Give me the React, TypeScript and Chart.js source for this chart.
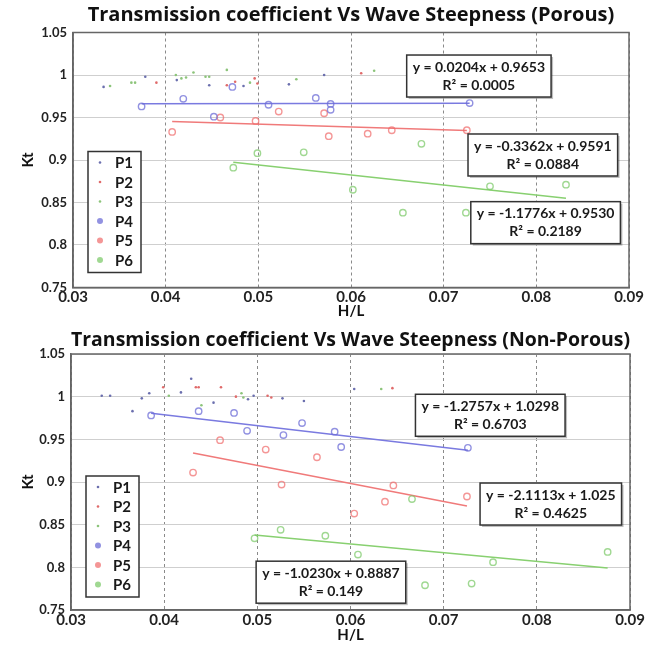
import React, { useEffect, useRef } from "react";
import { Chart, registerables } from "chart.js";

Chart.register(...registerables);

type Pt = [number, number];

// ---------- data ----------
const seriesLabels = ["P1", "P2", "P3", "P4", "P5", "P6"];

const porousTitle = "Transmission coefficient Vs Wave Steepness (Porous)";
const nonPorousTitle = "Transmission coefficient Vs Wave Steepness (Non-Porous)";
const xAxisLabel = "H/L";
const yAxisLabel = "Kt";

const porousP1: Pt[] = [[0.0333, 0.986], [0.0378, 0.998], [0.0412, 0.994], [0.0447, 0.988], [0.0484, 0.987], [0.0533, 0.989], [0.0571, 1.0]];
const porousP2: Pt[] = [[0.039, 0.991], [0.0466, 0.988], [0.0475, 0.992], [0.0496, 0.996], [0.0499, 0.99], [0.0611, 1.002]];
const porousP3: Pt[] = [[0.034, 0.987], [0.0363, 0.991], [0.0367, 0.991], [0.0411, 1.0], [0.0417, 0.996], [0.0422, 0.997], [0.043, 1.003], [0.0443, 0.998], [0.0447, 0.998], [0.0466, 1.006], [0.0491, 0.991], [0.0541, 0.995], [0.0625, 1.005]];
const porousP4: Pt[] = [[0.0374, 0.963], [0.0419, 0.972], [0.0452, 0.951], [0.0472, 0.986], [0.0511, 0.965], [0.0562, 0.973], [0.0578, 0.966], [0.0578, 0.959], [0.0728, 0.967]];
const porousP5: Pt[] = [[0.0407, 0.933], [0.0459, 0.95], [0.0497, 0.946], [0.0522, 0.957], [0.0571, 0.955], [0.0576, 0.928], [0.0618, 0.931], [0.0644, 0.935], [0.0725, 0.935]];
const porousP6: Pt[] = [[0.0473, 0.891], [0.0499, 0.908], [0.0549, 0.909], [0.0602, 0.865], [0.0656, 0.838], [0.0676, 0.919], [0.0724, 0.838], [0.075, 0.869], [0.0832, 0.871]];

const porousSlopes = [0.0204, -0.3362, -1.1776];
const porousIntercepts = [0.9653, 0.9591, 0.953];
const porousEquations = ["y = 0.0204x + 0.9653", "y = -0.3362x + 0.9591", "y = -1.1776x + 0.9530"];
const porousR2 = ["R² = 0.0005", "R² = 0.0884", "R² = 0.2189"];

const nonPorousP1: Pt[] = [[0.0333, 1.001], [0.0342, 1.001], [0.0366, 0.983], [0.0376, 0.998], [0.0384, 1.004], [0.0418, 1.005], [0.0429, 1.021], [0.0453, 0.993], [0.049, 0.997], [0.0496, 1.001], [0.0527, 0.998], [0.055, 0.995], [0.0604, 1.009]];
const nonPorousP2: Pt[] = [[0.0399, 1.011], [0.0434, 1.011], [0.0437, 1.011], [0.0461, 1.011], [0.0477, 1.0], [0.0511, 1.001], [0.0515, 0.999], [0.0645, 1.01]];
const nonPorousP3: Pt[] = [[0.0405, 1.001], [0.044, 0.99], [0.0483, 1.004], [0.0485, 0.999], [0.0633, 1.009]];
const nonPorousP4: Pt[] = [[0.0386, 0.978], [0.0437, 0.983], [0.0475, 0.981], [0.0489, 0.96], [0.0528, 0.955], [0.0548, 0.969], [0.0583, 0.959], [0.059, 0.941], [0.0726, 0.94]];
const nonPorousP5: Pt[] = [[0.0431, 0.911], [0.046, 0.949], [0.0509, 0.938], [0.0526, 0.897], [0.0564, 0.929], [0.0604, 0.863], [0.0637, 0.877], [0.0646, 0.896], [0.0725, 0.883]];
const nonPorousP6: Pt[] = [[0.0497, 0.834], [0.0525, 0.844], [0.0573, 0.837], [0.0608, 0.815], [0.0666, 0.88], [0.068, 0.779], [0.073, 0.781], [0.0753, 0.806], [0.0876, 0.818]];

const nonPorousSlopes = [-1.2757, -2.1113, -1.023];
const nonPorousIntercepts = [1.0298, 1.025, 0.8887];
const nonPorousEquations = ["y = -1.2757x + 1.0298", "y = -2.1113x + 1.025", "y = -1.0230x + 0.8887"];
const nonPorousR2 = ["R² = 0.6703", "R² = 0.4625", "R² = 0.149"];

// ---------- styles ----------
const FONT = "Lato, 'Open Sans', 'DejaVu Sans', sans-serif";
const TITLE_FONT = "'Open Sans', Lato, 'DejaVu Sans', sans-serif";
const dotColors = ["#6b6fae", "#e06a6a", "#8cc47a"];
const circleColors = ["rgba(110,110,215,0.75)", "rgba(240,105,105,0.7)", "rgba(120,200,100,0.7)"];
const trendColors = ["#7a7ae0", "#f07a7a", "#88d070"];

const eqBoxPlugin = {
  id: "eqBoxes",
  afterDatasetsDraw(chart: any, _args: any, opts: any) {
    const { ctx, scales } = chart;
    const xs = scales.x;
    const ys = scales.y;
    (opts.boxes || []).forEach((b: any) => {
      ctx.save();
      ctx.font = `bold 14px ${FONT}`;
      const w = Math.max(ctx.measureText(b.l1).width, ctx.measureText(b.l2).width) + 12;
      const h = 42;
      const cx = xs.getPixelForValue(b.x);
      const top = ys.getPixelForValue(b.y);
      const left = cx - w / 2;
      ctx.fillStyle = "rgba(0,0,0,0.25)";
      ctx.fillRect(left + 2, top + 2, w, h);
      ctx.fillStyle = "#fff";
      ctx.fillRect(left, top, w, h);
      ctx.strokeStyle = "#333";
      ctx.lineWidth = 1.5;
      ctx.strokeRect(left, top, w, h);
      ctx.fillStyle = "#1a1a1a";
      ctx.textAlign = "center";
      ctx.textBaseline = "middle";
      ctx.fillText(b.l1, cx, top + 12);
      ctx.fillText(b.l2, cx, top + 30);
      ctx.restore();
    });
  },
};

const boxLegendPlugin = {
  id: "boxLegend",
  afterDatasetsDraw(chart: any, _args: any, opts: any) {
    const { ctx, chartArea } = chart;
    const rowH = 19.5;
    const n = seriesLabels.length;
    const w = 53;
    const h = rowH * n + 4;
    const left = chartArea.left + opts.offsetX;
    const top = chartArea.bottom - opts.offsetY - h;
    ctx.save();
    ctx.fillStyle = "#fff";
    ctx.fillRect(left, top, w, h);
    ctx.strokeStyle = "#333";
    ctx.lineWidth = 1.5;
    ctx.strokeRect(left, top, w, h);
    ctx.font = `bold 15px ${FONT}`;
    ctx.textBaseline = "middle";
    ctx.textAlign = "left";
    seriesLabels.forEach((lab, i) => {
      const cy = top + 11 + i * rowH;
      const mx = left + 12;
      ctx.beginPath();
      if (i < 3) {
        ctx.fillStyle = dotColors[i];
        ctx.arc(mx, cy, 1.3, 0, Math.PI * 2);
      } else {
        ctx.fillStyle = circleColors[i - 3];
        ctx.arc(mx, cy, 3, 0, Math.PI * 2);
      }
      ctx.fill();
      ctx.fillStyle = "#1a1a1a";
      ctx.fillText(lab, left + 27, cy + 1);
    });
    ctx.restore();
  },
};

// solid frame around the plot area
const framePlugin = {
  id: "frame",
  beforeDatasetsDraw(chart: any) {
    const { ctx, chartArea } = chart;
    ctx.save();
    ctx.strokeStyle = "#666";
    ctx.lineWidth = 1.5;
    ctx.strokeRect(chartArea.left, chartArea.top, chartArea.right - chartArea.left, chartArea.bottom - chartArea.top);
    ctx.restore();
  },
};

function buildConfig(
  title: string,
  dots: Pt[][],
  circles: Pt[][],
  slopes: number[],
  intercepts: number[],
  eqs: string[],
  r2: string[],
  layout: any
) {
  const toXY = (arr: Pt[]) => arr.map(([x, y]) => ({ x, y }));
  const datasets: any[] = [];
  dots.forEach((d, i) => {
    datasets.push({
      label: seriesLabels[i],
      data: toXY(d),
      pointRadius: 1.3,
      pointBackgroundColor: dotColors[i],
      pointBorderWidth: 0,
      showLine: false,
    });
  });
  circles.forEach((d, i) => {
    datasets.push({
      label: seriesLabels[i + 3],
      data: toXY(d),
      pointRadius: 3.2,
      pointBackgroundColor: "rgba(0,0,0,0)",
      pointBorderColor: circleColors[i],
      pointBorderWidth: 1.4,
      showLine: false,
    });
  });
  circles.forEach((d, i) => {
    const xsArr = d.map((p) => p[0]);
    const x0 = Math.min(...xsArr);
    const x1 = Math.max(...xsArr);
    datasets.push({
      label: "trend " + seriesLabels[i + 3],
      data: [
        { x: x0, y: slopes[i] * x0 + intercepts[i] },
        { x: x1, y: slopes[i] * x1 + intercepts[i] },
      ],
      showLine: true,
      borderColor: trendColors[i],
      borderWidth: 1.5,
      pointRadius: 0,
    });
  });

  const fmt = (v: number) => String(parseFloat(Number(v).toFixed(2)));

  return {
    type: "scatter",
    data: { datasets },
    plugins: [framePlugin, eqBoxPlugin, boxLegendPlugin],
    options: {
      animation: false,
      responsive: false,
      devicePixelRatio: 1,
      layout: { padding: { left: 0, right: layout.padRight, top: 0, bottom: 0 } },
      plugins: {
        legend: { display: false },
        tooltip: { enabled: false },
        title: {
          display: true,
          fullSize: false,
          text: title,
          color: "#111",
          font: { family: TITLE_FONT, size: 20, weight: "bold" },
          padding: { top: layout.titleTop, bottom: layout.titleBottom },
        },
        eqBoxes: {
          boxes: eqs.map((e, i) => ({ l1: e, l2: r2[i], x: layout.boxes[i][0], y: layout.boxes[i][1] })),
        },
        boxLegend: { offsetX: 15, offsetY: layout.legendBottom },
      },
      scales: {
        x: {
          type: "linear",
          min: 0.03,
          max: 0.09,
          afterFit: (s: any) => {
            s.height = layout.xHeight;
          },
          ticks: {
            stepSize: 0.01,
            callback: (v: any) => Number(v).toFixed(2),
            color: "#222",
            font: { family: FONT, size: 15, weight: "bold" },
            padding: 1,
            maxRotation: 0,
          },
          grid: { color: "#8a8a8a", drawTicks: false, lineWidth: 1 },
          border: { display: true, color: "#666", width: 1.5, dash: [3, 3] },
          title: {
            display: true,
            text: xAxisLabel,
            color: "#111",
            font: { family: FONT, size: 15, weight: "bold" },
            padding: { top: 0, bottom: layout.xTitlePad },
          },
        },
        y: {
          type: "linear",
          min: 0.75,
          max: 1.05,
          afterFit: (s: any) => {
            s.width = layout.yWidth;
          },
          ticks: {
            stepSize: 0.05,
            callback: (v: any) => fmt(v),
            color: "#222",
            font: { family: FONT, size: 13, weight: "bold" },
            padding: 6,
          },
          grid: { color: "#cfcfcf", drawTicks: false, lineWidth: 1 },
          border: { display: true, color: "#666", width: 1.5 },
          title: {
            display: true,
            text: yAxisLabel,
            color: "#111",
            font: { family: FONT, size: 15, weight: "bold" },
            padding: { top: 19, bottom: 0 },
          },
        },
      },
    },
  };
}

function ScatterChart(props: { config: any; width: number; height: number }) {
  const ref = useRef<HTMLCanvasElement | null>(null);
  useEffect(() => {
    if (!ref.current) return;
    const chart = new Chart(ref.current, props.config);
    return () => chart.destroy();
  }, []);
  return <canvas ref={ref} width={props.width} height={props.height} style={{ display: "block" }} />;
}

export default function App() {
  const top = buildConfig(
    porousTitle,
    [porousP1, porousP2, porousP3],
    [porousP4, porousP5, porousP6],
    porousSlopes,
    porousIntercepts,
    porousEquations,
    porousR2,
    {
      padRight: 32,
      titleTop: 3,
      titleBottom: 5.5,
      xHeight: 35.5,
      yWidth: 73,
      xTitlePad: 3,
      legendBottom: 15,
      boxes: [[0.0738, 1.0235], [0.0807, 0.9306], [0.081, 0.851]],
    }
  );
  const bottom = buildConfig(
    nonPorousTitle,
    [nonPorousP1, nonPorousP2, nonPorousP3],
    [nonPorousP4, nonPorousP5, nonPorousP6],
    nonPorousSlopes,
    nonPorousIntercepts,
    nonPorousEquations,
    nonPorousR2,
    {
      padRight: 31,
      titleTop: 5,
      titleBottom: 2,
      xHeight: 36,
      yWidth: 71,
      xTitlePad: 2,
      legendBottom: 13,
      boxes: [[0.075, 1.0028], [0.0815, 0.8988], [0.0579, 0.8072]],
    }
  );
  return (
    <div style={{ position: "absolute", left: 0, top: 0, width: 661, height: 646, background: "#fff" }}>
      <ScatterChart config={top} width={661} height={323} />
      <ScatterChart config={bottom} width={661} height={323} />
    </div>
  );
}
